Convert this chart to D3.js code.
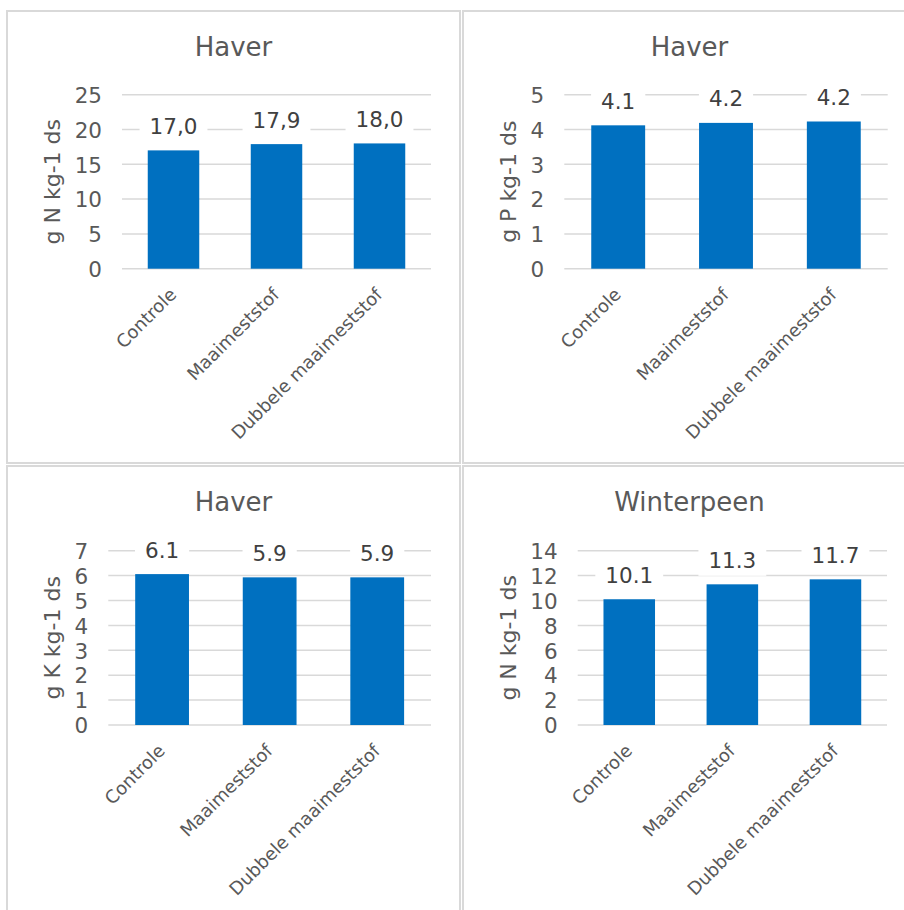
<!DOCTYPE html>
<html>
<head>
<meta charset="utf-8">
<script src="https://cdn.jsdelivr.net/npm/d3@7"></script>
<style>
  html, body { margin: 0; padding: 0; background: #fff; }
  svg { display: block; font-family: "DejaVu Sans", Verdana, sans-serif; }
</style>
</head>
<body>
<svg id="chart" width="904" height="910"></svg>
<script>
// ---- data ----
const categories = ["Controle", "Maaimeststof", "Dubbele maaimeststof"];
const titles = ["Haver", "Haver", "Haver", "Winterpeen"];
const yTitles = ["g N kg-1 ds", "g P kg-1 ds", "g K kg-1 ds", "g N kg-1 ds"];
const haverN = [17.0, 17.9, 18.0];
const haverP = [4.12, 4.19, 4.23];
const haverK = [6.06, 5.93, 5.93];
const winterpeenN = [10.1, 11.3, 11.7];
const yMaxima = [25, 5, 7, 14];
const yTickSteps = [5, 1, 1, 2];
const decimalMarks = [",", ".", ".", "."];

const seriesList = [haverN, haverP, haverK, winterpeenN];

// ---- layout ----
const layout = [
  { px: 7,   py: 11,  left: 122,   right: 431,   top: 94.7,  bottom: 268.7 },
  { px: 463, py: 11,  left: 564.3, right: 887.7, top: 94.7,  bottom: 268.7 },
  { px: 7,   py: 466, left: 108.3, right: 431,   top: 550.7, bottom: 725 },
  { px: 463, py: 466, left: 577.7, right: 887,   top: 550.7, bottom: 725 }
];
const panelW = 453, panelH = 452;
const textColor = "#595959";
const labelColor = "#404040";
const gridColor = "#d9d9d9";
const barColor = "#0070c0";

const svg = d3.select("#chart");
svg.append("rect").attr("width", 904).attr("height", 910).attr("fill", "#fff");

layout.forEach((L, i) => {
  const g = svg.append("g");
  const values = seriesList[i];

  // panel border
  g.append("rect")
    .attr("x", L.px).attr("y", L.py)
    .attr("width", panelW).attr("height", i < 2 ? panelH : 470)
    .attr("fill", "#fff").attr("stroke", gridColor).attr("stroke-width", 2);

  const x = d3.scaleBand().domain(categories).range([L.left, L.right])
    .paddingInner(0.5).paddingOuter(0.25);
  const y = d3.scaleLinear().domain([0, yMaxima[i]]).range([L.bottom, L.top]);
  const ticks = d3.range(0, yMaxima[i] + yTickSteps[i] / 2, yTickSteps[i]);

  // gridlines
  g.append("g").selectAll("line").data(ticks).join("line")
    .attr("x1", L.left).attr("x2", L.right)
    .attr("y1", d => y(d)).attr("y2", d => y(d))
    .attr("stroke", gridColor).attr("stroke-width", 1.5);

  // y axis tick labels
  const yAxis = d3.axisLeft(y).tickValues(ticks).tickSize(0).tickPadding(0)
    .tickFormat(d3.format("d"));
  const ya = g.append("g").attr("transform", `translate(${L.left - 20},0)`).call(yAxis);
  ya.select(".domain").remove();
  ya.selectAll("text")
    .attr("fill", textColor).attr("font-size", 21.5)
    .attr("font-family", "DejaVu Sans, Verdana, sans-serif")
    .attr("dy", "0.36em");

  // bars
  g.append("g").selectAll("rect").data(values).join("rect")
    .attr("x", (d, j) => x(categories[j]))
    .attr("width", x.bandwidth())
    .attr("y", d => y(d))
    .attr("height", d => y(0) - y(d))
    .attr("fill", barColor);

  // data labels with white background
  const loc = d3.formatLocale({ decimal: decimalMarks[i], thousands: "", grouping: [3], currency: ["", ""] });
  const fmt = loc.format(".1f");
  const lg = g.append("g");
  values.forEach((v, j) => {
    const cx = x(categories[j]) + x.bandwidth() / 2;
    const by = y(v) - 16.5;
    const t = lg.append("text")
      .attr("x", cx).attr("y", by)
      .attr("text-anchor", "middle")
      .attr("fill", labelColor).attr("font-size", 21.5)
      .text(fmt(v));
    const w = t.node().getComputedTextLength();
    lg.insert("rect", "text")
      .attr("x", cx - w / 2 - 10).attr("y", by - 20)
      .attr("width", w + 20).attr("height", 28)
      .attr("fill", "#fff");
  });

  // category labels
  const xa = g.append("g")
    .attr("transform", `translate(0,${L.bottom})`)
    .call(d3.axisBottom(x).tickSize(0).tickPadding(0));
  xa.select(".domain").remove();
  xa.selectAll("text")
    .attr("fill", textColor).attr("font-size", 18)
    .attr("font-family", "DejaVu Sans, Verdana, sans-serif")
    .attr("text-anchor", "end")
    .attr("dy", null).attr("y", null)
    .attr("transform", "translate(4,27) rotate(-45)");

  // title
  g.append("text")
    .attr("x", L.px + panelW / 2).attr("y", L.py + 45)
    .attr("text-anchor", "middle")
    .attr("fill", textColor).attr("font-size", 26)
    .text(titles[i]);

  // y axis title
  const ty = (L.top + L.bottom) / 2;
  const tx = L.px + 47 + 6;
  g.append("text")
    .attr("transform", `translate(${tx},${ty}) rotate(-90)`)
    .attr("text-anchor", "middle")
    .attr("fill", textColor).attr("font-size", 22)
    .text(yTitles[i]);
});
</script>
</body>
</html>
